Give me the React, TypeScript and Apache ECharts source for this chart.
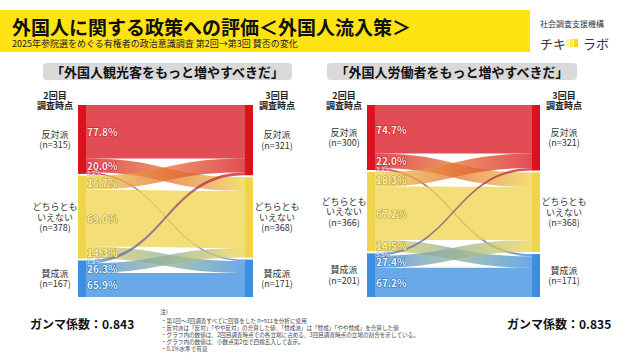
import React, { useEffect, useRef } from 'react';
import * as echarts from 'echarts';

const stances = ['反対派', 'どちらとも\nいえない', '賛成派'];
const tourismN2 = [315, 378, 167];
const tourismN3 = [321, 368, 171];
const tourismPct = [
  [77.8, 20.0, 2.2],
  [16.7, 69.0, 14.3],
  [7.8, 26.3, 65.9],
];
const workerN2 = [300, 366, 201];
const workerN3 = [321, 368, 171];
const workerPct = [
  [74.7, 22.0, 3.3],
  [18.3, 67.2, 14.5],
  [5.5, 27.4, 67.2],
];
const gammas = ['0.843', '0.835'];
const panelTitles = ['「外国人観光客をもっと増やすべきだ」', '「外国人労働者をもっと増やすべきだ」'];
const notes = [
  '・第1回〜3回調査すべてに回答をした n=911を分析に使用',
  '・反対派は「反対」「やや反対」の合算した値、「賛成派」は「賛成」「やや賛成」を合算した値',
  '・グラフ内の数値は、2回目調査時点での各立場に占める、3回目調査時点の立場の割合を示している。',
  '・グラフ内の数値は、小数点第2位で四捨五入して表示。',
  '・0.1%水準で有意',
];

const FONT = '"Noto Sans CJK JP", "Noto Sans", sans-serif';
const nodeColors = ['#d9141f', '#efd44c', '#3b8ee0'];
const labelStroke = ['#c0101a', '#b59a18', '#1c6cc0'];
const TOP = 105;
const BOTTOM = 297;
const GAP = 2;
const NODE_W = 8;
const panels = [
  { x0: 78, x1: 253, n2: tourismN2, n3: tourismN3, pct: tourismPct, prefix: 'T' },
  { x0: 367, x1: 540, n2: workerN2, n3: workerN3, pct: workerPct, prefix: 'W' },
];

function buildPanel(p: any, idx: number) {
  const flows = p.pct.map((row: number[], i: number) => row.map((v) => (p.n2[i] * v) / 100));
  const labelMap: Record<string, string> = {};
  const nodes: any[] = [];
  for (let i = 0; i < 3; i++) {
    const ln = p.prefix + 'L' + i;
    labelMap[ln] = stances[i] + '\n(n=' + p.n2[i] + ')';
    nodes.push({
      name: ln,
      itemStyle: { color: nodeColors[i] },
      label: { position: 'left', distance: 23, align: 'center' },
    });
  }
  for (let j = 0; j < 3; j++) {
    const rn = p.prefix + 'R' + j;
    labelMap[rn] = stances[j] + '\n(n=' + p.n3[j] + ')';
    nodes.push({
      name: rn,
      itemStyle: { color: nodeColors[j] },
      label: { position: 'right', distance: 24, align: 'center' },
    });
  }
  const links: any[] = [];
  for (let i = 0; i < 3; i++)
    for (let j = 0; j < 3; j++)
      links.push({ source: p.prefix + 'L' + i, target: p.prefix + 'R' + j, value: flows[i][j] });

  const series = {
    type: 'sankey',
    left: p.x0,
    right: 640 - p.x1,
    top: TOP,
    bottom: 360 - BOTTOM,
    nodeWidth: NODE_W,
    nodeGap: GAP,
    layoutIterations: 0,
    draggable: false,
    silent: true,
    emphasis: { disabled: true },
    data: nodes,
    links,
    itemStyle: { borderWidth: 0 },
    lineStyle: { color: 'gradient', opacity: 0.76, curveness: 0.5 },
    label: {
      show: true,
      fontFamily: FONT,
      fontSize: 9,
      lineHeight: 10.5,
      color: '#333',
      formatter: (params: any) => labelMap[params.name],
    },
  };

  const rowSums = flows.map((r: number[]) => r.reduce((a, b) => a + b, 0));
  const total = rowSums.reduce((a: number, b: number) => a + b, 0);
  const ky = (BOTTOM - TOP - 2 * GAP) / total;
  const texts: any[] = [];
  let y0 = TOP;
  for (let i = 0; i < 3; i++) {
    let acc = 0;
    for (let j = 0; j < 3; j++) {
      const h = flows[i][j] * ky;
      const v = p.pct[i][j];
      const small = v < 10;
      texts.push({
        type: 'text',
        x: p.x0 + NODE_W + 1,
        y: y0 + acc + h / 2,
        silent: true,
        z: 100,
        style: {
          text: v.toFixed(1) + '%',
          fill: i === 1 ? '#fff8c8' : '#ffffff',
          stroke: labelStroke[i],
          lineWidth: small ? 0.7 : 1.2,
          fontSize: small ? 5.5 : 10,
          fontWeight: 'bold',
          fontFamily: FONT,
          align: 'left',
          textAlign: 'left',
          verticalAlign: 'middle',
          textVerticalAlign: 'middle',
          opacity: 0.92,
        },
      });
      acc += h;
    }
    y0 += rowSums[i] * ky + GAP;
  }

  const boxX = idx === 0 ? 43 : 327;
  const boxW = idx === 0 ? 249 : 250;
  const headerCenterL = p.x0 - 23;
  const headerCenterR = p.x1 + 24;
  const graphics: any[] = [
    {
      type: 'rect',
      shape: { x: boxX, y: 63, width: boxW, height: 17, r: 4 },
      style: { fill: '#d9d9d9' },
      silent: true,
    },
    {
      type: 'text',
      x: boxX + boxW / 2,
      y: 71.5,
      style: {
        text: panelTitles[idx],
        fill: '#111',
        fontSize: 13,
        fontWeight: 'bold',
        fontFamily: FONT,
        align: 'center',
        textAlign: 'center',
        verticalAlign: 'middle',
        textVerticalAlign: 'middle',
      },
    },
    {
      type: 'text',
      x: headerCenterL,
      y: 100,
      style: {
        text: '2回目\n調査時点',
        fill: '#222',
        fontSize: 9,
        lineHeight: 10,
        fontWeight: 'bold',
        fontFamily: FONT,
        align: 'center',
        textAlign: 'center',
        verticalAlign: 'middle',
        textVerticalAlign: 'middle',
      },
    },
    {
      type: 'text',
      x: headerCenterR,
      y: 100,
      style: {
        text: '3回目\n調査時点',
        fill: '#222',
        fontSize: 9,
        lineHeight: 10,
        fontWeight: 'bold',
        fontFamily: FONT,
        align: 'center',
        textAlign: 'center',
        verticalAlign: 'middle',
        textVerticalAlign: 'middle',
      },
    },
    {
      type: 'text',
      x: idx === 0 ? 30 : 507,
      y: 323,
      style: {
        text: 'ガンマ係数：' + gammas[idx],
        fill: '#111',
        fontSize: 12,
        fontWeight: 'bold',
        fontFamily: FONT,
        align: 'left',
        textAlign: 'left',
        verticalAlign: 'middle',
        textVerticalAlign: 'middle',
      },
    },
  ];
  return { series, graphics: graphics.concat(texts) };
}

export default function App() {
  const ref = useRef<HTMLDivElement>(null);
  useEffect(() => {
    if (!ref.current) return;
    const chart = echarts.init(ref.current, null, { renderer: 'svg' });
    const built = panels.map((p, i) => buildPanel(p, i));
    const common: any[] = [
      {
        type: 'rect',
        shape: { x: 0, y: 10, width: 530, height: 42 },
        style: { fill: '#ffe312' },
        silent: true,
      },
      {
        type: 'text',
        x: 12,
        y: 26,
        style: {
          text: '外国人に関する政策への評価＜外国人流入策＞',
          fill: '#111',
          fontSize: 19,
          fontWeight: 'bold',
          fontFamily: FONT,
          align: 'left',
          textAlign: 'left',
          verticalAlign: 'middle',
          textVerticalAlign: 'middle',
        },
      },
      {
        type: 'text',
        x: 12,
        y: 43,
        style: {
          text: '2025年参院選をめぐる有権者の政治意識調査 第2回→第3回 賛否の変化',
          fill: '#222',
          fontSize: 9,
          fontFamily: FONT,
          align: 'left',
          textAlign: 'left',
          verticalAlign: 'middle',
          textVerticalAlign: 'middle',
        },
      },
      {
        type: 'text',
        x: 540,
        y: 23,
        style: {
          text: '社会調査支援機構',
          fill: '#333',
          fontSize: 8,
          fontFamily: FONT,
          align: 'left',
          textAlign: 'left',
          verticalAlign: 'middle',
          textVerticalAlign: 'middle',
        },
      },
      {
        type: 'text',
        x: 540,
        y: 43,
        style: {
          text: 'チキ',
          fill: '#333',
          fontSize: 13,
          fontFamily: FONT,
          align: 'left',
          textAlign: 'left',
          verticalAlign: 'middle',
          textVerticalAlign: 'middle',
        },
      },
      { type: 'rect', shape: { x: 566, y: 39, width: 3, height: 8 }, style: { fill: '#fff2a8' } },
      { type: 'rect', shape: { x: 570, y: 39, width: 3, height: 8 }, style: { fill: '#ffe45a' } },
      { type: 'rect', shape: { x: 574, y: 39, width: 4, height: 8 }, style: { fill: '#ffd500' } },
      {
        type: 'text',
        x: 583,
        y: 43,
        style: {
          text: 'ラボ',
          fill: '#333',
          fontSize: 13,
          fontFamily: FONT,
          align: 'left',
          textAlign: 'left',
          verticalAlign: 'middle',
          textVerticalAlign: 'middle',
        },
      },
      {
        type: 'text',
        x: 160,
        y: 311,
        style: {
          text: '注)',
          fill: '#444',
          fontSize: 6,
          fontFamily: FONT,
          align: 'left',
          textAlign: 'left',
          verticalAlign: 'middle',
          textVerticalAlign: 'middle',
        },
      },
      ...notes.map((t, k) => ({
        type: 'text',
        x: 161,
        y: 321 + k * 7,
        style: {
          text: t,
          fill: '#444',
          fontSize: 5.6,
          fontFamily: FONT,
          align: 'left',
          textAlign: 'left',
          verticalAlign: 'middle',
          textVerticalAlign: 'middle',
        },
      })),
    ];
    chart.setOption({
      animation: false,
      backgroundColor: '#ffffff',
      series: built.map((b) => b.series),
      graphic: { elements: common.concat(...built.map((b) => b.graphics)) },
    });
    return () => chart.dispose();
  }, []);
  return (
    <div
      ref={ref}
      style={{ position: 'absolute', left: 0, top: 0, width: 640, height: 360 }}
    />
  );
}
